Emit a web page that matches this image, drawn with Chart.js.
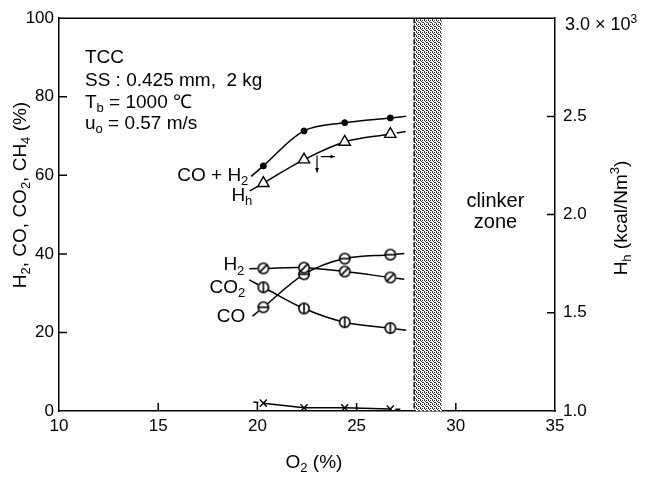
<!DOCTYPE html>
<html>
<head>
<meta charset="utf-8">
<script src="https://cdn.jsdelivr.net/npm/chart.js@4.4.1/dist/chart.umd.min.js"></script>
<style>
  html, body { margin: 0; padding: 0; background: #fff; }
  #wrap { width: 658px; height: 480px; }
</style>
</head>
<body>
<div id="wrap"><canvas id="chart" width="658" height="480"></canvas></div>
<script>
/* ── Data ── */
var o2 = [20.3, 22.35, 24.4, 26.7];          // O2 (%)
var coH2 = [62.4, 71.3, 73.4, 74.6];         // CO + H2 (%)
var hh = [2.16, 2.28, 2.37, 2.41];           // Hh (x10^3 kcal/Nm3)
var h2 = [36.3, 36.5, 35.5, 34.0];           // H2 (%)
var co2 = [31.5, 26.1, 22.6, 21.1];          // CO2 (%)
var co = [26.4, 34.8, 38.8, 39.8];           // CO (%)
var ch4 = [2.0, 0.8, 0.8, 0.5];              // CH4 (%)
var clinkerZone = [27.9, 29.3];              // O2 range of clinker zone
var xTicks = [10, 15, 20, 25, 30, 35];
var yTicks = [0, 20, 40, 60, 80, 100];
var hhTicks = [1.0, 1.5, 2.0, 2.5, 3.0];

var FAMILY = "'Liberation Sans', Arial, Helvetica, sans-serif";

/* ── Helpers ── */
function pts(ys) {
  return o2.map(function (x, i) { return { x: x, y: ys[i] }; });
}

function marker(kind) {
  var s = 16, m = s / 2, r = 6;
  var c = document.createElement('canvas');
  c.width = s; c.height = s;
  var g = c.getContext('2d');
  g.lineWidth = 1.6;
  g.strokeStyle = '#000';
  g.fillStyle = '#fff';
  g.beginPath(); g.arc(m, m, r - 0.8, 0, Math.PI * 2); g.fill(); g.stroke();
  g.beginPath();
  if (kind === 'slash') { g.moveTo(m - r * 0.65, m + r * 0.65); g.lineTo(m + r * 0.65, m - r * 0.65); }
  if (kind === 'hbar') { g.moveTo(m - r + 0.8, m); g.lineTo(m + r - 0.8, m); }
  if (kind === 'vbar') { g.moveTo(m, m - r + 0.8); g.lineTo(m, m + r - 0.8); }
  g.stroke();
  return c;
}

function stipple() {
  // 4x4 dither tile, roughly 40% ink
  var dots = [[0, 0], [2, 0], [1, 1], [3, 2], [0, 3], [2, 2]];
  var c = document.createElement('canvas');
  c.width = 4; c.height = 4;
  var g = c.getContext('2d');
  g.fillStyle = '#fff'; g.fillRect(0, 0, 4, 4);
  g.fillStyle = '#333';
  dots.forEach(function (d) { g.fillRect(d[0], d[1], 1, 1); });
  return c;
}

function fontFor(run, size) {
  return (run[1] ? Math.round(size * 0.68) : size) + 'px ' + FAMILY;
}

function runsWidth(ctx, runs, size) {
  var w = 0;
  runs.forEach(function (r) { ctx.font = fontFor(r, size); w += ctx.measureText(r[0]).width; });
  return w;
}

// runs: [[text, ''|'sub'|'sup'], ...]
function drawRuns(ctx, runs, x, y, size, align) {
  var w = runsWidth(ctx, runs, size);
  var cx = align === 'right' ? x - w : (align === 'center' ? x - w / 2 : x);
  ctx.textAlign = 'left';
  ctx.textBaseline = 'alphabetic';
  ctx.fillStyle = '#000';
  runs.forEach(function (r) {
    ctx.font = fontFor(r, size);
    var dy = r[1] === 'sub' ? size * 0.22 : (r[1] === 'sup' ? -size * 0.42 : 0);
    ctx.fillText(r[0], cx, y + dy);
    cx += ctx.measureText(r[0]).width;
  });
}

function arrow(ctx, x1, y1, x2, y2) {
  var a = Math.atan2(y2 - y1, x2 - x1), h = 5;
  ctx.beginPath(); ctx.moveTo(x1, y1); ctx.lineTo(x2, y2); ctx.stroke();
  ctx.beginPath();
  ctx.moveTo(x2, y2);
  ctx.lineTo(x2 - h * Math.cos(a - 0.4), y2 - h * Math.sin(a - 0.4));
  ctx.lineTo(x2 - h * Math.cos(a + 0.4), y2 - h * Math.sin(a + 0.4));
  ctx.closePath(); ctx.fill();
}

/* ── Background: clinker band, frame, inward ticks ── */
var framePlugin = {
  id: 'frame',
  beforeDatasetsDraw: function (chart) {
    var ctx = chart.ctx, a = chart.chartArea, sx = chart.scales.x;
    var x0 = sx.getPixelForValue(clinkerZone[0]);
    var x1 = sx.getPixelForValue(clinkerZone[1]);
    ctx.save();
    ctx.fillStyle = ctx.createPattern(stipple(), 'repeat');
    ctx.fillRect(x0, a.top, x1 - x0, a.bottom - a.top);
    ctx.strokeStyle = '#000';
    ctx.lineWidth = 1.4;
    ctx.setLineDash([5, 2]);
    ctx.beginPath(); ctx.moveTo(x0, a.top); ctx.lineTo(x0, a.bottom); ctx.stroke();
    ctx.setLineDash([]);
    // top frame line
    ctx.lineWidth = 1.5;
    ctx.beginPath(); ctx.moveTo(a.left, a.top); ctx.lineTo(a.right, a.top); ctx.stroke();
    // inward tick marks
    var tl = 8;
    ctx.beginPath();
    yTicks.slice(1, -1).forEach(function (v) {
      var y = chart.scales.y.getPixelForValue(v);
      ctx.moveTo(a.left, y); ctx.lineTo(a.left + tl, y);
    });
    xTicks.slice(1, -1).forEach(function (v) {
      var x = sx.getPixelForValue(v);
      ctx.moveTo(x, a.bottom); ctx.lineTo(x, a.bottom - tl);
    });
    hhTicks.slice(1, -1).forEach(function (v) {
      var y = chart.scales.y1.getPixelForValue(v);
      ctx.moveTo(a.right, y); ctx.lineTo(a.right - tl, y);
    });
    ctx.stroke();
    ctx.restore();
  }
};

/* ── Foreground: line tails, curve labels, notes, axis titles ── */
var curveLabels = [
  { ds: 0, runs: [['CO + H', ''], ['2', 'sub']], dx: -15, dy: 15 },
  { ds: 1, runs: [['H', ''], ['h', 'sub']], dx: -11, dy: 18 },
  { ds: 2, runs: [['H', ''], ['2', 'sub']], dx: -19, dy: 2 },
  { ds: 3, runs: [['CO', ''], ['2', 'sub']], dx: -18, dy: 6 },
  { ds: 4, runs: [['CO', '']], dx: -18, dy: 15 }
];

var notesPlugin = {
  id: 'notes',
  afterDatasetsDraw: function (chart) {
    var ctx = chart.ctx, a = chart.chartArea;
    ctx.save();
    ctx.strokeStyle = '#000';
    ctx.fillStyle = '#000';
    ctx.lineWidth = 1.5;
    // short tails beyond the first and last measured points
    chart.data.datasets.forEach(function (ds, i) {
      var el = chart.getDatasetMeta(i).data;
      if (el.length < 2) return;
      var r = ds.pointRadius || 6, t = ds.tail || 12;
      [[el[0], el[1]], [el[el.length - 1], el[el.length - 2]]].forEach(function (p) {
        var dx = p[0].x - p[1].x, dy = p[0].y - p[1].y, d = Math.sqrt(dx * dx + dy * dy);
        var ux = dx / d, uy = dy / d;
        ctx.beginPath();
        ctx.moveTo(p[0].x + ux * r, p[0].y + uy * r);
        ctx.lineTo(p[0].x + ux * (r + t), p[0].y + uy * (r + t));
        ctx.stroke();
      });
    });
    // curve labels
    curveLabels.forEach(function (l) {
      var p = chart.getDatasetMeta(l.ds).data[0];
      drawRuns(ctx, l.runs, p.x + l.dx, p.y + l.dy, 19, 'right');
    });
    // arrows marking the Hh curve
    var q = chart.getDatasetMeta(1).data[1];
    ctx.lineWidth = 1.2;
    arrow(ctx, q.x + 13, q.y - 4, q.x + 13, q.y + 13);
    arrow(ctx, q.x + 17, q.y - 3, q.x + 31, q.y - 3);
    // condition block
    var lx = a.left + 26;
    drawRuns(ctx, [['TCC', '']], lx, a.top + 45, 19, 'left');
    drawRuns(ctx, [['SS : 0.425 mm,  2 kg', '']], lx, a.top + 68, 19, 'left');
    drawRuns(ctx, [['T', ''], ['b', 'sub'], [' = 1000 \u2103', '']], lx, a.top + 90, 19, 'left');
    drawRuns(ctx, [['u', ''], ['o', 'sub'], [' = 0.57 m/s', '']], lx, a.top + 111, 19, 'left');
    // clinker zone note
    var cx = chart.scales.x.getPixelForValue(32);
    drawRuns(ctx, [['clinker', '']], cx, chart.scales.y.getPixelForValue(52), 20, 'center');
    drawRuns(ctx, [['zone', '']], cx, chart.scales.y.getPixelForValue(46.6), 20, 'center');
    ctx.restore();
  },
  afterDraw: function (chart) {
    var ctx = chart.ctx, a = chart.chartArea;
    ctx.save();
    // top label of the Hh axis carries the multiplier
    drawRuns(ctx, [['3.0 \u00d7 10', ''], ['3', 'sup']], a.right + 10,
      chart.scales.y1.getPixelForValue(hhTicks[hhTicks.length - 1]) + 12, 18, 'left');
    // x title
    drawRuns(ctx, [['O', ''], ['2', 'sub'], [' (%)', '']], (a.left + a.right) / 2 + 7, a.bottom + 57, 19, 'center');
    // left title
    ctx.translate(19, 195);
    ctx.rotate(-Math.PI / 2);
    drawRuns(ctx, [['H', ''], ['2', 'sub'], [', CO, CO', ''], ['2', 'sub'], [', CH', ''], ['4', 'sub'], [' (%)', '']], 0, 7, 19, 'center');
    ctx.restore();
    ctx.save();
    ctx.translate(620, 218);
    ctx.rotate(-Math.PI / 2);
    drawRuns(ctx, [['H', ''], ['h', 'sub'], [' (kcal/Nm', ''], ['3', 'sup'], [')', '']], 0, 7, 19, 'center');
    ctx.restore();
  }
};

/* ── Chart ── */
var tickFont = { family: FAMILY, size: 17 };

new Chart(document.getElementById('chart'), {
  type: 'line',
  data: {
    datasets: [
      { label: 'CO+H2', data: pts(coH2), yAxisID: 'y', pointStyle: 'circle', pointRadius: 3,
        backgroundColor: '#000', borderColor: '#000', tail: 13 },
      { label: 'Hh', data: pts(hh), yAxisID: 'y1', pointStyle: 'triangle', pointRadius: 6.5,
        pointBorderWidth: 1.4, backgroundColor: '#fff', borderColor: '#000', tail: 9 },
      { label: 'H2', data: pts(h2), yAxisID: 'y', pointStyle: marker('slash'), borderColor: '#000', tail: 8 },
      { label: 'CO2', data: pts(co2), yAxisID: 'y', pointStyle: marker('vbar'), borderColor: '#000', tail: 10 },
      { label: 'CO', data: pts(co), yAxisID: 'y', pointStyle: marker('hbar'), borderColor: '#000', tail: 8 },
      { label: 'CH4', data: pts(ch4), yAxisID: 'y', pointStyle: 'crossRot', pointRadius: 5,
        pointBorderWidth: 1.4, tension: 0, borderColor: '#000', tail: 5 }
    ]
  },
  options: {
    responsive: false,
    animation: false,
    layout: { padding: { top: 17, left: 0, right: 0, bottom: 0 } },
    elements: {
      line: { borderWidth: 1.5, tension: 0.35, fill: false },
      point: { radius: 6 }
    },
    plugins: { legend: { display: false }, tooltip: { enabled: false } },
    scales: {
      x: {
        type: 'linear', min: 10, max: 35,
        afterBuildTicks: function (s) { s.ticks = xTicks.map(function (v) { return { value: v }; }); },
        afterFit: function (s) { s.height = 69; },
        grid: { display: false, drawTicks: false },
        border: { display: true, color: '#000', width: 1.5 },
        ticks: { color: '#000', font: tickFont, padding: 5, maxRotation: 0 }
      },
      y: {
        position: 'left', min: 0, max: 100,
        afterBuildTicks: function (s) { s.ticks = yTicks.map(function (v) { return { value: v }; }); },
        afterFit: function (s) { s.width = 59; },
        grid: { display: false, drawTicks: false },
        border: { display: true, color: '#000', width: 1.5 },
        ticks: { color: '#000', font: tickFont, padding: 5 }
      },
      y1: {
        position: 'right', min: 1, max: 3,
        afterBuildTicks: function (s) { s.ticks = hhTicks.map(function (v) { return { value: v }; }); },
        afterFit: function (s) { s.width = 103; },
        grid: { display: false, drawTicks: false },
        border: { display: true, color: '#000', width: 1.5 },
        ticks: {
          color: '#000', font: tickFont, padding: 8,
          callback: function (v) { return v === 3 ? '' : v.toFixed(1); }
        }
      }
    }
  },
  plugins: [framePlugin, notesPlugin]
});
</script>
</body>
</html>
